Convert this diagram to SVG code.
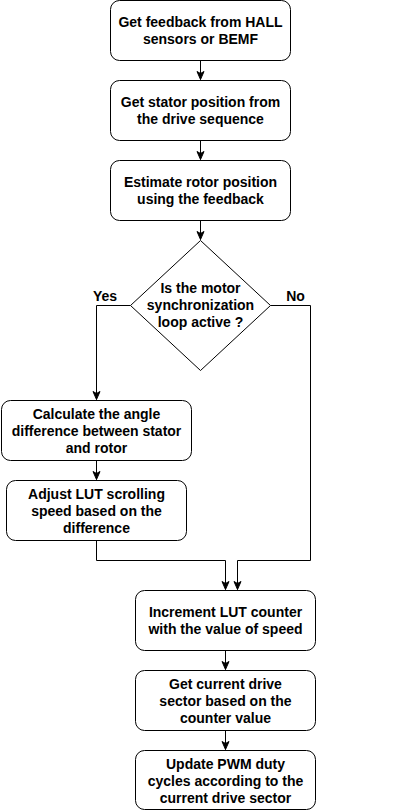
<svg xmlns="http://www.w3.org/2000/svg" width="401" height="811" viewBox="0 0 401 811">
<style>
.box{fill:#fff;stroke:#000;stroke-width:1}
.t{font-family:"Liberation Sans",Arial,Helvetica,sans-serif;font-size:14px;font-weight:bold;fill:#000;text-anchor:middle;dominant-baseline:central}
.c{fill:none;stroke:#000;stroke-width:1}
</style>
<defs>
<marker id="a" markerUnits="userSpaceOnUse" markerWidth="10" markerHeight="10" viewBox="0 0 10 10" refX="9" refY="5" orient="auto">
<path d="M1,1.5 L9,5 L1,8.5 L3,5 Z" fill="#000" stroke="#000" stroke-width="1"/>
</marker>
</defs>
<rect width="401" height="811" fill="#fff"/>
<g id="connectors">
<path class="c" d="M200.5,60.5 V79.5" marker-end="url(#a)"/>
<path class="c" d="M200.5,140.5 V159.5" marker-end="url(#a)"/>
<path class="c" d="M200.5,220.5 V239.5" marker-end="url(#a)"/>
<path class="c" d="M130.5,305.5 H96.5 V399.5" marker-end="url(#a)"/>
<path class="c" d="M270.5,305.5 H310.5 V560.5 H237.5 V589.5" marker-end="url(#a)"/>
<path class="c" d="M96.5,460.5 V479.5" marker-end="url(#a)"/>
<path class="c" d="M96.5,540.5 V560.5 H225.5 V589.5" marker-end="url(#a)"/>
<path class="c" d="M225.5,650.5 V669.5" marker-end="url(#a)"/>
<path class="c" d="M225.5,730.5 V749.5" marker-end="url(#a)"/>
</g>
<g id="n1">
<rect class="box" x="110.5" y="0.5" width="180" height="60" rx="9"/>
<text class="t" x="200.5" y="22">Get feedback from HALL</text>
<text class="t" x="200.5" y="39">sensors or BEMF</text>
</g>
<g id="n2">
<rect class="box" x="110.5" y="80.5" width="180" height="60" rx="9"/>
<text class="t" x="200.5" y="102">Get stator position from</text>
<text class="t" x="200.5" y="119">the drive sequence</text>
</g>
<g id="n3">
<rect class="box" x="110.5" y="160.5" width="180" height="60" rx="9"/>
<text class="t" x="200.5" y="182">Estimate rotor position</text>
<text class="t" x="200.5" y="199">using the feedback</text>
</g>
<g id="n4">
<path class="box" d="M200.5,240.5 L270.5,305.5 L200.5,370.5 L130.5,305.5 Z"/>
<text class="t" x="200.5" y="288">Is the motor</text>
<text class="t" x="200.5" y="305">synchronization</text>
<text class="t" x="200.5" y="322">loop active ?</text>
</g>
<g id="lbl-yes"><text class="t" x="105" y="296">Yes</text></g>
<g id="lbl-no"><text class="t" x="295.5" y="296">No</text></g>
<g id="n5">
<rect class="box" x="1.5" y="400.5" width="190" height="60" rx="9"/>
<text class="t" x="96.5" y="413.5">Calculate the angle</text>
<text class="t" x="96.5" y="430.5">difference between stator</text>
<text class="t" x="96.5" y="447.5">and rotor</text>
</g>
<g id="n6">
<rect class="box" x="6.5" y="480.5" width="180" height="60" rx="9"/>
<text class="t" x="96.5" y="493.5">Adjust LUT scrolling</text>
<text class="t" x="96.5" y="510.5">speed based on the</text>
<text class="t" x="96.5" y="527.5">difference</text>
</g>
<g id="n7">
<rect class="box" x="135.5" y="590.5" width="180" height="60" rx="9"/>
<text class="t" x="225.5" y="612">Increment LUT counter</text>
<text class="t" x="225.5" y="629">with the value of speed</text>
</g>
<g id="n8">
<rect class="box" x="135.5" y="670.5" width="180" height="60" rx="9"/>
<text class="t" x="225.5" y="683.5">Get current drive</text>
<text class="t" x="225.5" y="700.5">sector based on the</text>
<text class="t" x="225.5" y="717.5">counter value</text>
</g>
<g id="n9">
<rect class="box" x="135.5" y="750.5" width="180" height="59" rx="9"/>
<text class="t" x="225.5" y="763.5">Update PWM duty</text>
<text class="t" x="225.5" y="780.5">cycles according to the</text>
<text class="t" x="225.5" y="797.5">current drive sector</text>
</g>
</svg>
